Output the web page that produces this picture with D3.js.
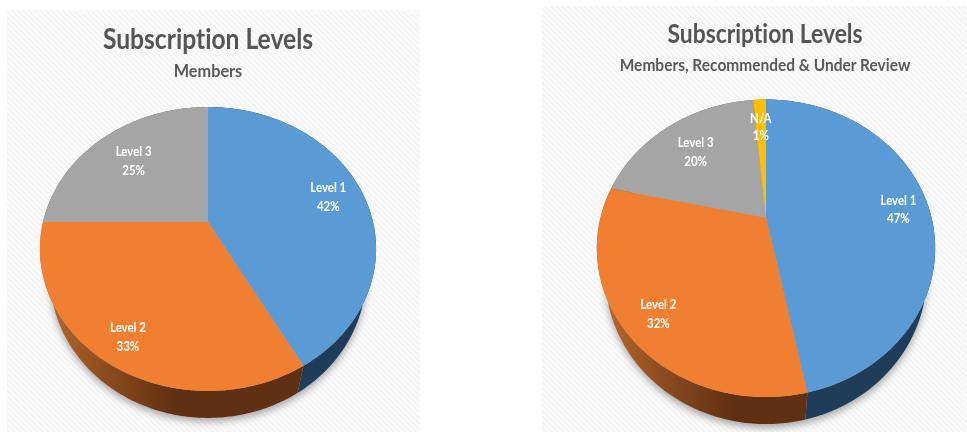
<!DOCTYPE html>
<html><head><meta charset="utf-8">
<script src="https://cdn.jsdelivr.net/npm/d3@7"></script>
<style>html,body{margin:0;padding:0;background:#fff}svg{display:block}text{font-family:Lato,"Open Sans",sans-serif;font-weight:700;text-anchor:middle;font-variant-ligatures:none}</style>
</head><body><svg id="c" width="967" height="432"></svg>
<script>
const titleText = "Subscription Levels";
const leftSubtitle = "Members";
const rightSubtitle = "Members, Recommended & Under Review";
const leftLevels = ["Level 1","Level 2","Level 3"];
const leftValues = [42,33,25];
const rightLevels = ["Level 1","Level 2","Level 3","N/A"];
const rightValues = [46.8,31.6,20.1,1.49];
const colors = {"Level 1":"#5b9bd5","Level 2":"#f07f31","Level 3":"#a5a5a5","N/A":"#ffc000"};

const svg = d3.select("#c");
const defs = svg.append("defs");
const pat = defs.append("pattern").attr("id","hatch").attr("width",4).attr("height",4)
  .attr("patternUnits","userSpaceOnUse").attr("patternTransform","rotate(-45)");
pat.append("rect").attr("width",4).attr("height",4).attr("fill","#fcfcfc");
pat.append("rect").attr("width",2).attr("height",4).attr("fill","#f3f3f3");
defs.append("filter").attr("id","soft").append("feGaussianBlur").attr("stdDeviation",0.4);
defs.append("filter").attr("id","shadow").attr("x","-20%").attr("y","-20%").attr("width","140%").attr("height","140%")
  .append("feGaussianBlur").attr("stdDeviation",3.5);

const line = d3.line().curve(d3.curveLinearClosed);
const fmt = d3.format(".0f");

function squeezed(g,x,y,size,sx,fill,str){
  return g.append("text").attr("transform",`translate(${x},${y}) scale(${sx},1)`)
    .attr("font-size",size).attr("fill",fill).attr("filter","url(#soft)").text(str);
}

function drawPie(o){
  const g = svg.append("g");
  g.append("rect").attr("x",o.panel[0]).attr("y",o.panel[1]).attr("width",o.panel[2]).attr("height",o.panel[3]).attr("fill","url(#hatch)");
  squeezed(g,o.titleX,o.titleY,o.titleSize,0.88,"#555",titleText);
  squeezed(g,o.titleX,o.subY,o.subSize,o.subScale,"#5a5a5a",o.subtitle);

  const proj = (a,f=1)=>{
    const u=Math.sin(a)*f, v=-Math.cos(a)*f, den=1-o.k*v;
    return [o.cx+o.R*u/den, o.cy+o.A*v/den];
  };
  const lower = p=>[o.cx+(p[0]-o.cx)*o.s, p[1]+o.depth];
  const rows = o.levels.map((name,i)=>({name,value:o.values[i]}));
  const arcs = d3.pie().sort(null).value(d=>d.value)(rows);
  const rim = d=>{
    const n=Math.max(2,Math.ceil((d.endAngle-d.startAngle)/0.015));
    return d3.range(n+1).map(i=>proj(d.startAngle+(d.endAngle-d.startAngle)*i/n));
  };
  const full = d3.range(360).map(i=>proj(i/360*2*Math.PI));

  g.append("path").attr("d",line(full.map(lower).map(p=>[p[0],p[1]+4]))).attr("fill","#777").attr("opacity",0.6).attr("filter","url(#shadow)");

  const grad = defs.append("linearGradient").attr("id",o.id+"w").attr("gradientUnits","userSpaceOnUse")
    .attr("x1",o.cx-o.R).attr("x2",o.cx).attr("y1",0).attr("y2",0);
  [[0,"#bb6a2d"],[0.35,"#8f4e20"],[0.8,"#5f3012"],[1,"#5f3012"]].forEach(s=>grad.append("stop").attr("offset",s[0]).attr("stop-color",s[1]));
  const wall = {"Level 1":"#1f3d58","Level 2":`url(#${o.id}w)`,"Level 3":"#5f5f5f","N/A":"#7f6000"};
  g.selectAll(".wall").data(arcs).join("path").attr("class","wall")
    .attr("d",d=>{const r=rim(d);return line(r.concat(r.map(lower).reverse()));})
    .attr("fill",d=>wall[d.data.name]);
  g.selectAll(".top").data(arcs).join("path").attr("class","top")
    .attr("d",d=>line([[o.cx,o.cy],...rim(d)]))
    .attr("fill",d=>colors[d.data.name]);
  arcs.forEach((d,i)=>{
    const p=proj((d.startAngle+d.endAngle)/2,0.78), n=o.nudge[i];
    squeezed(g,p[0]+n[0],p[1]+n[1]-5,13,0.88,"#fff",d.data.name);
    squeezed(g,p[0]+n[0],p[1]+n[1]-5+(d.data.name==="N/A"?17:o.labelGap),13,0.88,"#fff",fmt(d.data.value)+"%");
  });
}

drawPie({id:"a",panel:[7,10,413,422],subtitle:leftSubtitle,levels:leftLevels,values:leftValues,
  titleX:208,titleY:49,titleSize:28,subY:77,subSize:17.5,subScale:0.93,labelGap:19,
  cx:208,cy:222,R:165,A:136.8,k:0.19,s:0.94,depth:27,nudge:[[0,1],[-5,10],[8,7]]});
drawPie({id:"b",panel:[542,6,425,426],subtitle:rightSubtitle,levels:rightLevels,values:rightValues,
  titleX:765,titleY:43,titleSize:26,subY:70.5,subSize:17.5,subScale:0.886,labelGap:18.5,
  cx:766,cy:217.5,R:165.5,A:142.4,k:0.207,s:0.95,depth:27,nudge:[[6,3],[-4,9],[6,9],[0,6]]});
</script></body></html>
